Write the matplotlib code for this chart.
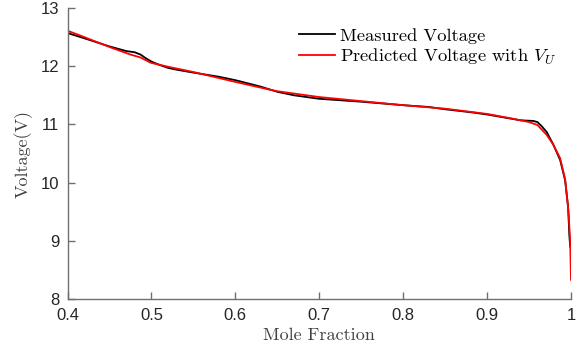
import matplotlib
matplotlib.use("Agg")
import matplotlib.pyplot as plt

plt.rcParams['mathtext.fontset'] = 'cm'
plt.rcParams['axes.unicode_minus'] = False

meas_x = [0.40, 0.42, 0.45, 0.46, 0.47, 0.48, 0.487, 0.493, 0.50, 0.51, 0.52, 0.53, 0.55,
          0.58, 0.60, 0.63, 0.65, 0.67, 0.70, 0.75, 0.80, 0.83, 0.85, 0.88, 0.90, 0.92,
          0.94, 0.955, 0.96, 0.965, 0.971, 0.979, 0.987, 0.993, 0.9965, 0.998, 0.999]
meas_v = [12.57, 12.48, 12.34, 12.30, 12.26, 12.24, 12.20, 12.14, 12.08, 12.02, 11.97, 11.94, 11.89,
          11.82, 11.76, 11.65, 11.56, 11.50, 11.44, 11.39, 11.33, 11.30, 11.26, 11.21, 11.17, 11.12,
          11.07, 11.06, 11.04, 10.97, 10.87, 10.65, 10.39, 10.04, 9.59, 9.10, 8.90]

pred_x = [0.40, 0.42, 0.45, 0.475, 0.487, 0.499, 0.52, 0.55, 0.60, 0.64, 0.65, 0.70, 0.75,
          0.80, 0.85, 0.90, 0.93, 0.95, 0.96, 0.971, 0.979, 0.987, 0.993, 0.997, 0.999, 1.0]
pred_v = [12.61, 12.50, 12.33, 12.20, 12.15, 12.06, 11.99, 11.90, 11.73, 11.60, 11.57, 11.47, 11.40,
          11.33, 11.27, 11.18, 11.10, 11.04, 10.99, 10.82, 10.65, 10.42, 10.06, 9.50, 9.00, 8.33]

xticks = [0.4, 0.5, 0.6, 0.7, 0.8, 0.9, 1.0]
xticklabels = ['0.4', '0.5', '0.6', '0.7', '0.8', '0.9', '1']
yticks = [8, 9, 10, 11, 12, 13]

fig = plt.figure(figsize=(5.85, 3.51), dpi=100)
ax = fig.add_axes([67.5/585, 52/351, (571-67.5)/585, (299-8)/351])

ax.plot(meas_x, meas_v, color='black', lw=1.3, label='Measured Voltage')
ax.plot(pred_x, pred_v, color='red', lw=1.3, label='Predicted Voltage with $V_U$')

ax.set_xlim(0.4, 1.0)
ax.set_ylim(8, 13)
ax.set_xticks(xticks)
ax.set_xticklabels(xticklabels)
ax.set_yticks(yticks)

for s in ['top', 'right']:
    ax.spines[s].set_visible(False)
for s in ['left', 'bottom']:
    ax.spines[s].set_color('#707070')
    ax.spines[s].set_linewidth(1.0)
ax.tick_params(direction='in', length=5, width=1.0, color='#707070',
               labelsize=12, labelcolor='#262626')
ax.tick_params(axis='x', pad=6.5)
ax.tick_params(axis='y', pad=5.8)
for lab in ax.get_xticklabels() + ax.get_yticklabels():
    lab.set_fontfamily('Liberation Sans')

ax.set_xlabel('Mole Fraction', fontfamily='cmr10', fontsize=13, color='#404040', labelpad=3)
ax.set_ylabel('Voltage(V)', fontfamily='cmr10', fontsize=13, color='#404040', labelpad=6)

leg = ax.legend(loc='upper right', bbox_to_anchor=(1.0, 0.983), frameon=False,
                prop={'family': 'cmr10', 'size': 13.3},
                handlelength=1.9, handletextpad=0.3, borderaxespad=0.4, labelspacing=0.15)

fig.savefig('out.png', dpi=100)
